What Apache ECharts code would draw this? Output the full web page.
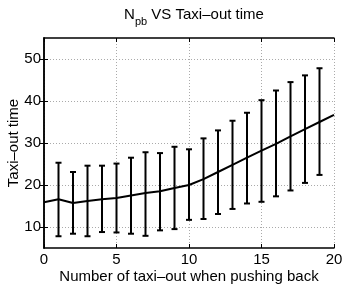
<!DOCTYPE html>
<html><head><meta charset="utf-8">
<script src="https://cdn.jsdelivr.net/npm/echarts@6/dist/echarts.min.js"></script>
<style>html,body{margin:0;padding:0;background:#fff}#c{width:346px;height:285px}</style>
</head><body><div id="c"></div>
<script>
var xValues = [0,1,2,3,4,5,6,7,8,9,10,11,12,13,14,15,16,17,18,19,20];
var meanValues = [15.9,16.6,15.7,16.2,16.6,16.9,17.5,18.1,18.5,19.3,20.0,21.4,23.1,24.8,26.5,28.2,29.8,31.6,33.3,35.0,36.7];
var errX = [1,2,3,4,5,6,7,8,9,10,11,12,13,14,15,16,17,18,19];
var errLow = [7.8,8.4,7.8,8.8,8.7,8.4,7.9,9.2,9.5,11.7,11.9,13.1,14.3,15.6,16.0,17.3,18.7,20.5,22.4];
var errHigh = [25.3,23.1,24.6,24.6,25.1,26.5,27.8,27.6,29.1,28.5,31.1,33.0,35.3,37.2,40.2,42.5,44.5,46.1,47.8];
var yTicks = [10,20,30,40,50];

var font = 'Liberation Sans, Arial, sans-serif';
var chart = echarts.init(document.getElementById('c'), null, {renderer:'canvas'});
var lineData = xValues.map(function(x,i){return [x, meanValues[i]];});
var errData = errX.map(function(x,i){return [x, errLow[i], errHigh[i]];});

chart.setOption({
  animation:false,
  title:{
    text:'{n|N}{s|pb}{n| VS Taxi\u2013out time}',
    left:189, textAlign:'center', top:-2,
    textStyle:{rich:{
      n:{fontFamily:font,fontSize:15,color:'#000',fontWeight:'normal',verticalAlign:'bottom', lineHeight:19},
      s:{fontFamily:font,fontSize:11,color:'#000',fontWeight:'normal',verticalAlign:'bottom', padding:[0,0,-5,0], lineHeight:19}
    }}
  },
  grid:{left:44,right:12,top:38,bottom:37,containLabel:false,outerBoundsMode:'none'},
  xAxis:[{
    type:'value',min:0,max:20,interval:5,
    name:'Number of taxi\u2013out when pushing back',nameLocation:'middle',nameGap:21,nameMoveOverlap:false,
    nameTextStyle:{fontFamily:font,fontSize:15,color:'#000'},
    axisLine:{lineStyle:{color:'#000',width:1.5}},
    axisTick:{inside:true,length:4,lineStyle:{color:'#000'}},
    axisLabel:{fontFamily:font,fontSize:15,color:'#000',margin:4},
    splitLine:{show:true,lineStyle:{color:'#aaa',type:[1,2],width:1}}
  },{
    type:'value',min:0,max:20,interval:5,position:'top',
    axisLine:{show:true,lineStyle:{color:'#000',width:1.5}},
    axisTick:{inside:true,length:4,lineStyle:{color:'#000'}},
    axisLabel:{show:false},splitLine:{show:false}
  }],
  yAxis:[{
    type:'value',min:5,max:55,
    name:'Taxi\u2013out time',nameLocation:'middle',nameGap:23,nameMoveOverlap:false,
    nameTextStyle:{fontFamily:font,fontSize:15,color:'#000'},
    axisLine:{show:true,lineStyle:{color:'#000',width:1.5}},
    axisTick:{inside:true,length:4,lineStyle:{color:'#000'},customValues:yTicks},
    axisLabel:{fontFamily:font,fontSize:15,color:'#000',margin:3,customValues:yTicks},
    splitLine:{show:true,lineStyle:{color:'#aaa',type:[1,2],width:1}},
    interval:10
  },{
    type:'value',min:5,max:55,position:'right',
    axisLine:{show:true,lineStyle:{color:'#000',width:1.5}},
    axisTick:{inside:true,length:4,lineStyle:{color:'#000'},customValues:yTicks},
    axisLabel:{show:false},splitLine:{show:false}
  }],
  series:[{
    type:'line',data:lineData,symbol:'none',
    lineStyle:{color:'#000',width:2}
  },{
    type:'custom',data:errData,
    renderItem:function(params,api){
      var x=api.value(0), lo=api.value(1), hi=api.value(2);
      var p1=api.coord([x,lo]), p2=api.coord([x,hi]);
      var hw=3;
      var st={stroke:'#000',lineWidth:2};
      return {type:'group',children:[
        {type:'line',shape:{x1:p1[0],y1:p1[1],x2:p2[0],y2:p2[1]},style:st},
        {type:'line',shape:{x1:p1[0]-hw,y1:p1[1],x2:p1[0]+hw,y2:p1[1]},style:st},
        {type:'line',shape:{x1:p2[0]-hw,y1:p2[1],x2:p2[0]+hw,y2:p2[1]},style:st}
      ]};
    }
  }]
});
</script></body></html>
